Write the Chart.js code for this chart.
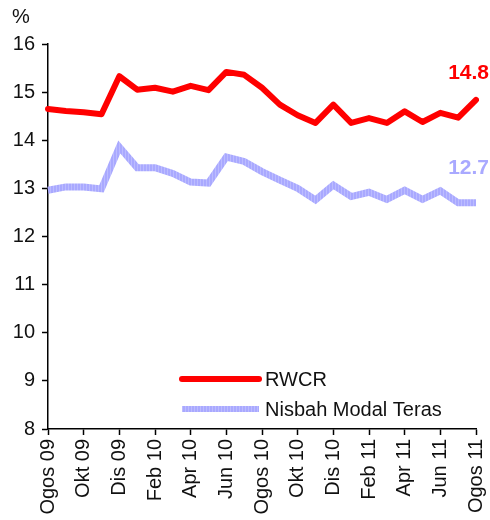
<!DOCTYPE html>
<html>
<head>
<meta charset="utf-8">
<script src="https://cdn.jsdelivr.net/npm/chart.js@4/dist/chart.umd.min.js"></script>
<style>
html,body{margin:0;padding:0;background:#fff;}
#wrap{position:relative;width:490px;height:520px;}
</style>
</head>
<body>
<div id="wrap"><canvas id="c" width="490" height="520"></canvas></div>
<script>
const months = ["Ogos 09","Sep 09","Okt 09","Nov 09","Dis 09","Jan 10","Feb 10","Mac 10","Apr 10","Mei 10","Jun 10","Jul 10","Ogos 10","Sep 10","Okt 10","Nov 10","Dis 10","Jan 11","Feb 11","Mac 11","Apr 11","Mei 11","Jun 11","Jul 11","Ogos 11"];
const rwcr = [14.65,14.61,14.58,14.54,15.33,15.05,15.09,15.01,15.13,15.04,15.42,15.36,15.09,14.74,14.52,14.36,14.74,14.36,14.46,14.36,14.60,14.38,14.57,14.47,14.84];
const coreCapital = [12.96,13.03,13.03,12.99,13.86,13.43,13.43,13.31,13.13,13.11,13.65,13.56,13.35,13.17,13.00,12.76,13.07,12.83,12.92,12.77,12.96,12.77,12.95,12.70,12.70];
const seriesNames = ["RWCR","Nisbah Modal Teras"];
const yTicks = [8,9,10,11,12,13,14,15,16];
const unitLabel = "%";

const FONT = "'Liberation Sans', Arial, sans-serif";

// striped lavender pattern for the core capital line
const pc = document.createElement('canvas');
pc.width = 3; pc.height = 3;
const pctx = pc.getContext('2d');
pctx.fillStyle = '#a9a9ff'; pctx.fillRect(0,0,3,3);
pctx.fillStyle = '#bcbcff'; pctx.fillRect(2,0,1,3);
const blueFill = document.getElementById('c').getContext('2d').createPattern(pc,'repeat');

const extras = {
  id: 'extras',
  afterDraw(chart) {
    const ctx = chart.ctx;
    ctx.save();
    ctx.font = "20px " + FONT;
    ctx.fillStyle = '#111';
    ctx.textAlign = 'left';
    ctx.textBaseline = 'middle';
    ctx.fillText(unitLabel, 12, 17);
    const y = chart.scales.y;
    const last = months.length - 1;
    ctx.font = "bold 21px " + FONT;
    ctx.textAlign = 'right';
    ctx.fillStyle = '#ff0000';
    ctx.fillText(rwcr[last].toFixed(1), 489, y.getPixelForValue(rwcr[last]) - 27);
    ctx.fillStyle = '#a9a9ff';
    ctx.fillText(coreCapital[last].toFixed(1), 489, y.getPixelForValue(coreCapital[last]) - 35);
    const lx0 = 182, lx1 = 259, tx = 265;
    const rows = [379, 409];
    chart.data.datasets.forEach((ds, i) => {
      ctx.beginPath();
      ctx.lineWidth = 6;
      ctx.lineCap = i === 0 ? 'round' : 'butt';
      ctx.strokeStyle = ds.borderColor;
      ctx.moveTo(lx0, rows[i]);
      ctx.lineTo(lx1, rows[i]);
      ctx.stroke();
      ctx.font = "20px " + FONT;
      ctx.fillStyle = '#111';
      ctx.textAlign = 'left';
      ctx.textBaseline = 'middle';
      ctx.fillText(ds.label, tx, rows[i] + 1);
    });
    ctx.restore();
  }
};

new Chart(document.getElementById('c'), {
  type: 'line',
  data: {
    labels: months,
    datasets: [
      { label: seriesNames[0], data: rwcr, borderColor: '#ff0000', borderWidth: 6,
        pointRadius: 0, tension: 0, borderJoinStyle: 'round', borderCapStyle: 'round', order: 1 },
      { label: seriesNames[1], data: coreCapital, borderColor: blueFill, borderWidth: 7,
        pointRadius: 0, tension: 0, borderJoinStyle: 'miter', order: 2 }
    ]
  },
  options: {
    responsive: false,
    animation: false,
    events: [],
    layout: { padding: { top: 44, right: 14, left: 0, bottom: 0 } },
    plugins: { legend: { display: false }, tooltip: { enabled: false } },
    scales: {
      x: {
        offset: false,
        border: { color: '#000', width: 1.5 },
        grid: {
          drawOnChartArea: false,
          tickLength: 6,
          tickWidth: 1.5,
          color: (c) => (c.index % 2 === 0 ? '#000' : 'rgba(0,0,0,0)')
        },
        ticks: {
          autoSkip: false,
          minRotation: 90,
          maxRotation: 90,
          padding: 4,
          color: '#111',
          font: { family: FONT, size: 20 },
          callback: (v, i) => (i % 2 === 0 ? months[i] : '')
        },
        afterFit: (s) => { s.height = 91; s.paddingLeft = 0; s.paddingRight = 0; }
      },
      y: {
        min: yTicks[0],
        max: yTicks[yTicks.length - 1],
        border: { color: '#000', width: 1.5 },
        grid: { drawOnChartArea: false, tickLength: 6, tickWidth: 1.5, color: '#000' },
        afterBuildTicks: (s) => { s.ticks = yTicks.map(v => ({ value: v })); },
        ticks: {
          padding: 7,
          color: '#111',
          font: { family: FONT, size: 20 },
          callback: (v) => v
        },
        afterFit: (s) => { s.width = 48; }
      }
    }
  },
  plugins: [extras]
});
</script>
</body>
</html>
